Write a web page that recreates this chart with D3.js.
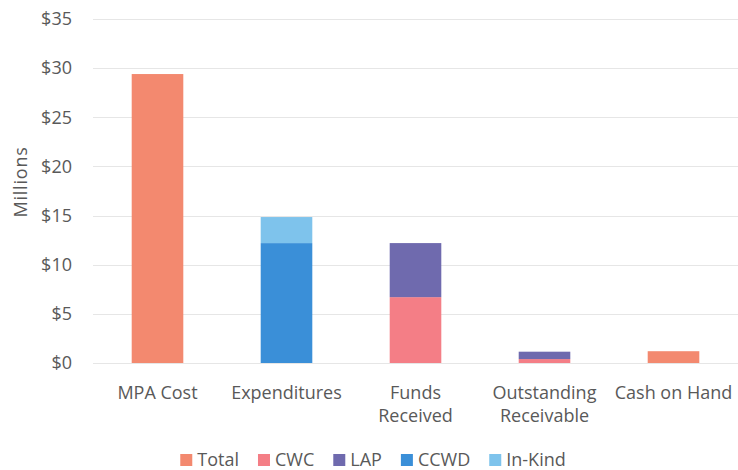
<!DOCTYPE html>
<html>
<head>
<meta charset="utf-8">
<script src="https://cdn.jsdelivr.net/npm/d3@7"></script>
<style>
  body { margin: 0; background: #fff; }
  svg { font-family: "Open Sans", sans-serif; }
  .grid line { stroke: #e6e6e6; stroke-width: 1; }
  .tick text { fill: #595959; }
</style>
</head>
<body>
<div id="chart"></div>
<script>
const categories = ['MPA Cost', 'Expenditures', 'Funds Received', 'Outstanding Receivable', 'Cash on Hand'];
const categoryLines = [['MPA Cost'], ['Expenditures'], ['Funds', 'Received'], ['Outstanding', 'Receivable'], ['Cash on Hand']];
const seriesNames = ['Total', 'CWC', 'LAP', 'CCWD', 'In-Kind'];
const seriesColors = ['#f3896f', '#f47e86', '#6f6aae', '#3a8fd8', '#7ec3ec'];

// values in millions, one array per series, in category order
const totalValues  = [29.4, 0, 0, 0, 1.2];
const cwcValues    = [0, 0, 6.7, 0.4, 0];
const lapValues    = [0, 0, 5.5, 0.75, 0];
const ccwdValues   = [0, 12.2, 0, 0, 0];
const inKindValues = [0, 2.65, 0, 0, 0];

const yTicks = [0, 5, 10, 15, 20, 25, 30, 35];

const width = 738, height = 470;
const margin = { top: 19, right: 0, bottom: 107, left: 93 };
const innerW = width - margin.left - margin.right;
const innerH = height - margin.top - margin.bottom;

const rows = categories.map((c, i) => ({
  category: c,
  'Total': totalValues[i],
  'CWC': cwcValues[i],
  'LAP': lapValues[i],
  'CCWD': ccwdValues[i],
  'In-Kind': inKindValues[i]
}));

const stacked = d3.stack().keys(seriesNames)(rows);

const x = d3.scaleBand()
  .domain(categories)
  .range([0, innerW]);

const barW = x.bandwidth() * 0.4;

const y = d3.scaleLinear()
  .domain([0, 35])
  .range([innerH, 0]);

const color = d3.scaleOrdinal().domain(seriesNames).range(seriesColors);

const svg = d3.select('#chart')
  .append('svg')
    .attr('width', width)
    .attr('height', height);

const g = svg.append('g')
  .attr('transform', 'translate(' + margin.left + ',' + margin.top + ')');

// gridlines
g.append('g')
  .attr('class', 'grid')
  .selectAll('line')
  .data(yTicks)
  .join('line')
    .attr('x1', 0)
    .attr('x2', innerW)
    .attr('y1', d => Math.round(y(d)) + 0.5)
    .attr('y2', d => Math.round(y(d)) + 0.5);

// y axis labels
const yAxis = d3.axisLeft(y)
  .tickValues(yTicks)
  .tickFormat(d => '$' + d)
  .tickSize(0)
  .tickPadding(21);

g.append('g')
  .call(yAxis)
  .call(a => a.select('.domain').remove())
  .call(a => a.selectAll('.tick text').attr('font-size', 18).attr('font-family', '"Open Sans", sans-serif'));

svg.append('text')
  .attr('transform', 'translate(27,' + 182 + ') rotate(-90)')
  .attr('text-anchor', 'middle')
  .attr('fill', '#595959')
  .attr('font-size', 18)
  .attr('letter-spacing', 0.8)
  .text('Millions');

// bars
g.append('g')
  .selectAll('g')
  .data(stacked)
  .join('g')
    .attr('fill', d => color(d.key))
  .selectAll('rect')
  .data(d => d.filter(s => s[1] - s[0] > 0))
  .join('rect')
    .attr('x', d => x(d.data.category) + (x.bandwidth() - barW) / 2)
    .attr('width', barW)
    .attr('y', d => y(d[1]))
    .attr('height', d => y(d[0]) - y(d[1]));

// category labels
const labels = g.append('g')
  .selectAll('text')
  .data(categories)
  .join('text')
    .attr('x', d => x(d) + x.bandwidth() / 2)
    .attr('y', innerH + 36)
    .attr('text-anchor', 'middle')
    .attr('fill', '#595959')
    .attr('font-size', 18);

labels.selectAll('tspan')
  .data((d, i) => categoryLines[i])
  .join('tspan')
    .attr('x', function() { return this.parentNode.getAttribute('x'); })
    .attr('dy', (d, i) => i === 0 ? 0 : 23)
    .text(d => d);

// legend
const legend = svg.append('g');
let lx = 0;
seriesNames.forEach(name => {
  const item = legend.append('g').attr('transform', 'translate(' + lx + ',0)');
  item.append('rect')
    .attr('x', 0).attr('y', -6)
    .attr('width', 12).attr('height', 12)
    .attr('fill', color(name));
  const t = item.append('text')
    .attr('x', 17).attr('y', 6)
    .attr('fill', '#595959')
    .attr('font-size', 18)
    .text(name);
  lx += 17 + t.node().getComputedTextLength() + 19;
});
const legendW = lx - 19;
legend.attr('transform', 'translate(' + (373 - legendW / 2) + ',460)');
</script>
</body>
</html>
